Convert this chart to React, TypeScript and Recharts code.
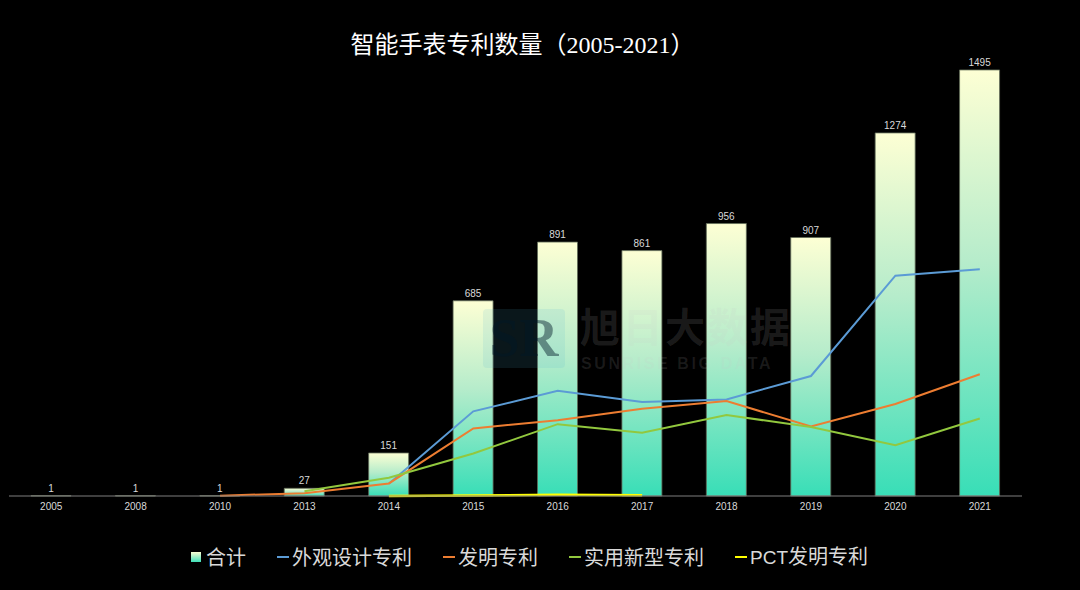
import {
  Bar,
  ComposedChart,
  LabelList,
  Legend,
  Line,
  XAxis,
  YAxis,
} from "recharts";

const years = ["2005", "2008", "2010", "2013", "2014", "2015", "2016", "2017", "2018", "2019", "2020", "2021"];
const totals = [1, 1, 1, 27, 151, 685, 891, 861, 956, 907, 1274, 1495];
const designPatents = [null, null, null, null, 43, 297, 369, 330, 339, 421, 773, 796];
const inventionPatents = [null, null, 1, 10, 44, 237, 266, 306, 333, 244, 323, 427];
const utilityPatents = [null, null, null, 17, 64, 149, 252, 222, 284, 242, 178, 272];
const pctPatents = [null, null, null, null, 0, 2, 4, 3, null, null, null, null];

const chartData = years.map((year, i) => ({
  year,
  total: totals[i],
  design: designPatents[i],
  invention: inventionPatents[i],
  utility: utilityPatents[i],
  pct: pctPatents[i],
}));

const lineSeries = [
  { key: "design", name: "外观设计专利", color: "#5b9bd5" },
  { key: "invention", name: "发明专利", color: "#ed7d31" },
  { key: "utility", name: "实用新型专利", color: "#92c83e" },
  { key: "pct", name: "PCT发明专利", color: "#ffff00" },
];

const cjk = "'Noto Sans CJK SC', 'Noto Sans', sans-serif";
const small = "'Liberation Sans', 'Noto Sans', sans-serif";

function renderLegend() {
  return (
    <div
      style={{
        display: "flex",
        alignItems: "center",
        height: 24,
        lineHeight: "24px",
        fontFamily: cjk,
        fontSize: 20,
        color: "#d9d9d9",
        whiteSpace: "nowrap",
      }}
    >
      <span
        style={{
          display: "inline-block",
          width: 10,
          height: 10,
          marginRight: 5,
          background: "linear-gradient(#fdffd4, #3ddfb8)",
        }}
      />
      <span>合计</span>
      {lineSeries.map((s) => (
        <span key={s.key} style={{ display: "flex", alignItems: "center", marginLeft: 31 }}>
          <span
            style={{
              display: "inline-block",
              width: 12,
              height: 2,
              marginRight: 3,
              background: s.color,
            }}
          />
          <span>
            {s.key === "pct" ? (
              <>
                <span style={{ fontFamily: "'Liberation Sans Narrow', " + small, fontSize: 19 }}>PCT</span>
                发明专利
              </>
            ) : (
              s.name
            )}
          </span>
        </span>
      ))}
    </div>
  );
}

export default function App() {
  return (
    <div
      style={{
        position: "absolute",
        left: 0,
        top: 0,
        width: 1080,
        height: 590,
        background: "#000",
        overflow: "hidden",
      }}
    >
      <div
        style={{
          position: "absolute",
          top: 30,
          left: 16,
          width: 1013,
          textAlign: "center",
          fontFamily: "'Liberation Serif', 'Noto Sans CJK SC', serif",
          fontSize: 24,
          lineHeight: "30px",
          color: "#fff",
        }}
      >
        智能手表专利数量（2005-2021）
      </div>

      <ComposedChart
        width={1080}
        height={590}
        data={chartData}
        margin={{ top: 40, right: 58, left: 9, bottom: 40 }}
      >
        <defs>
          <linearGradient id="barFill" x1="0" y1="0" x2="0" y2="1">
            <stop offset="0%" stopColor="#fdffd4" />
            <stop offset="45%" stopColor="#b6eccb" />
            <stop offset="100%" stopColor="#38deb7" />
          </linearGradient>
        </defs>
        <XAxis
          dataKey="year"
          interval={0}
          height={30}
          tickLine={false}
          tickMargin={1}
          axisLine={{ stroke: "#7f7f7f" }}
          tick={{ fill: "#d9d9d9", fontSize: 10, fontFamily: small }}
        />
        <YAxis hide domain={[0, 1600]} />
        <Legend
          verticalAlign="bottom"
          height={24}
          content={renderLegend}
          wrapperStyle={{ top: 545, bottom: "auto", left: 191, width: 700 }}
        />
        <Bar
          dataKey="total"
          name="合计"
          barSize={40}
          fill="url(#barFill)"
          stroke="#5f6b58"
          strokeWidth={0.8}
          isAnimationActive={false}
        >
          <LabelList
            dataKey="total"
            position="top"
            offset={4}
            fill="#d9d9d9"
            fontSize={10}
            fontFamily={small}
          />
        </Bar>
        {lineSeries.map((s) => (
          <Line
            key={s.key}
            type="linear"
            dataKey={s.key}
            name={s.name}
            stroke={s.color}
            strokeWidth={s.key === "pct" ? 2.5 : 2}
            dot={false}
            isAnimationActive={false}
          />
        ))}
      </ComposedChart>

      {/* watermark */}
      <div style={{ position: "absolute", left: 0, top: 0, pointerEvents: "none" }}>
        <div
          style={{
            position: "absolute",
            left: 483,
            top: 309,
            width: 82,
            height: 59,
            borderRadius: 4,
            background: "rgba(80,180,210,0.13)",
            color: "rgba(0,25,40,0.45)",
            fontFamily: "'Liberation Serif', serif",
            fontWeight: "bold",
            fontSize: 54,
            lineHeight: "59px",
            textAlign: "center",
          }}
        >
          SR
        </div>
        <div
          style={{
            position: "absolute",
            left: 580,
            top: 301,
            fontFamily: cjk,
            fontWeight: "bold",
            fontSize: 40,
            lineHeight: "48px",
            letterSpacing: 2.5,
            color: "rgba(200,200,200,0.15)",
            whiteSpace: "nowrap",
          }}
        >
          旭日大数据
        </div>
        <div
          style={{
            position: "absolute",
            left: 581,
            top: 355,
            fontFamily: small,
            fontWeight: "bold",
            fontSize: 16,
            lineHeight: "18px",
            letterSpacing: 2.6,
            color: "rgba(200,200,200,0.13)",
            whiteSpace: "nowrap",
          }}
        >
          SUNRISE BIG DATA
        </div>
      </div>
    </div>
  );
}
